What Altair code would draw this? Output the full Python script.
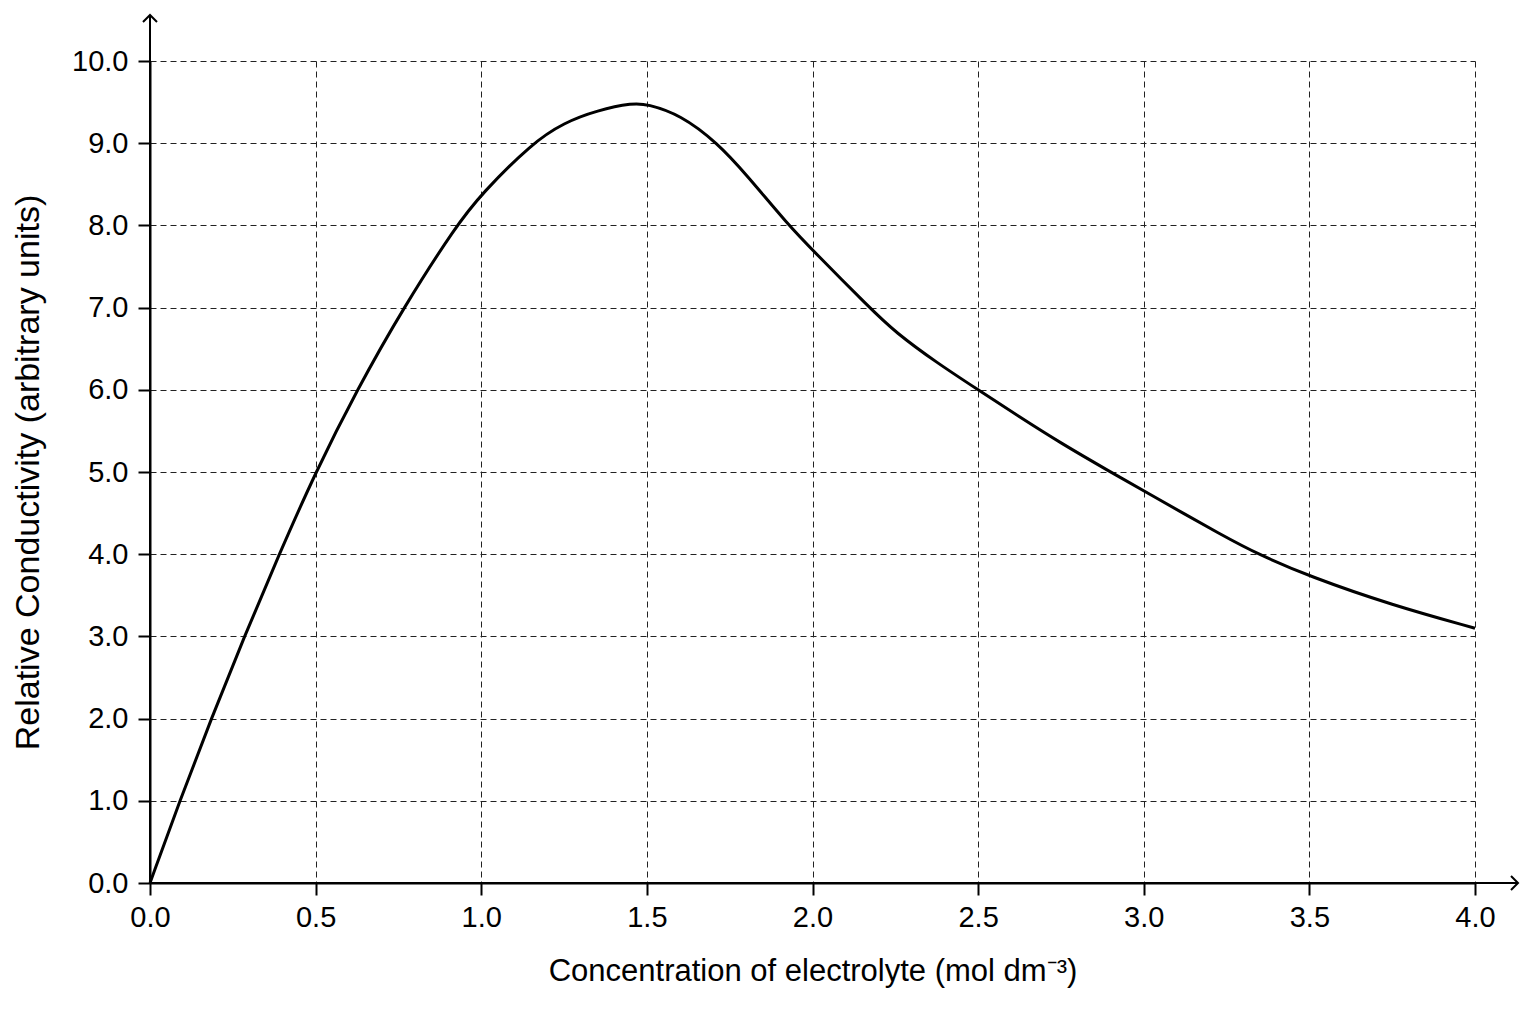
import altair as alt
import pandas as pd

# values
CONC = [0.0, 0.09, 0.185, 0.285, 0.39, 0.5, 0.625, 0.765, 0.925, 1.0, 1.153,
        1.25, 1.35, 1.46, 1.5, 1.6, 1.714, 1.8, 1.928, 2.0, 2.172, 2.25,
        2.375, 2.5, 2.625, 2.75, 2.9, 3.0, 3.25, 3.346, 3.5, 3.75, 4.0]
COND = [0.0, 1.0, 2.0, 3.0, 4.0, 5.0, 6.0, 7.0, 8.0, 8.38, 9.0,
        9.25, 9.4, 9.49, 9.475, 9.35, 9.0, 8.62, 8.0, 7.7, 7.0, 6.7,
        6.33, 6.0, 5.67, 5.35, 5.0, 4.77, 4.2, 4.0, 3.73, 3.38, 3.1]

X_TICKS = [0.0, 0.5, 1.0, 1.5, 2.0, 2.5, 3.0, 3.5, 4.0]
Y_TICKS = [0.0, 1.0, 2.0, 3.0, 4.0, 5.0, 6.0, 7.0, 8.0, 9.0, 10.0]

FONT = "Liberation Sans, Arial, sans-serif"
W, H = 1325, 822

df = pd.DataFrame({"conc": CONC, "cond": COND})
one = pd.DataFrame({"k": [0]})

curve = alt.Chart(df).mark_line(
    interpolate="basis", color="black", strokeWidth=3
).encode(
    x=alt.X("conc:Q",
            scale=alt.Scale(domain=[0, 4], nice=False),
            axis=alt.Axis(values=X_TICKS, format=".1f", labelPadding=8,
                          labelFlush=False, titlePadding=24, titleFontSize=31,
                          title="Concentration of electrolyte (mol dm\u207b\u00b3)")),
    y=alt.Y("cond:Q",
            scale=alt.Scale(domain=[0, 10], nice=False),
            axis=alt.Axis(values=Y_TICKS, format=".1f", labelPadding=10,
                          labelFlush=False, titlePadding=26, titleFontSize=34,
                          title="Relative Conductivity (arbitrary units)")),
)

# axis lines running past the plot, with open arrow heads
y_line = alt.Chart(one).mark_rule(color="black", strokeWidth=2).encode(
    x=alt.value(0), y=alt.value(-46), y2=alt.value(H)
)
x_line = alt.Chart(one).mark_rule(color="black", strokeWidth=2).encode(
    x=alt.value(0), x2=alt.value(W + 43), y=alt.value(H)
)
y_head = alt.Chart(one).mark_point(
    shape="M -1 1 L 0 0 L 1 1", size=196, filled=False,
    color="black", strokeWidth=2, opacity=1
).encode(x=alt.value(0), y=alt.value(-46))
x_head = alt.Chart(one).mark_point(
    shape="M -1 -1 L 0 0 L -1 1", size=196, filled=False,
    color="black", strokeWidth=2, opacity=1
).encode(x=alt.value(W + 43), y=alt.value(H))

chart = alt.layer(curve, y_line, x_line, y_head, x_head).properties(
    width=W, height=H,
    autosize="none",
    padding={"left": 142, "top": 53, "right": 50, "bottom": 120},
).configure_view(
    stroke=None
).configure_axis(
    domainColor="black", domainWidth=2,
    tickColor="black", tickWidth=2, tickSize=12,
    grid=True, gridColor="#222", gridWidth=1, gridDash=[6, 4], gridOpacity=1,
    labelFont=FONT, labelFontSize=29, labelColor="black",
    titleFont=FONT, titleColor="black", titleFontWeight="normal",
)

chart.save("out.html", embed_options={"renderer": "svg", "actions": False})
